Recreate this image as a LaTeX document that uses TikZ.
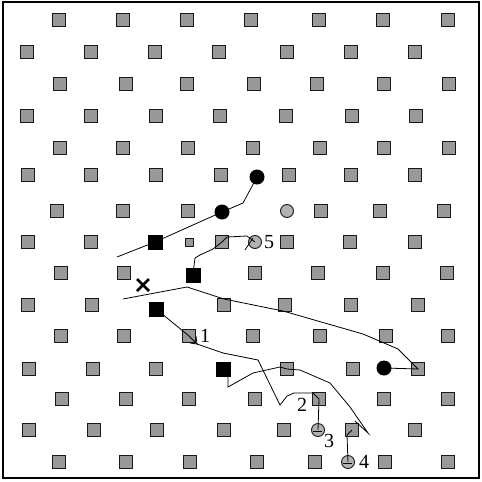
\documentclass[tikz,border=0pt]{standalone}
\usepackage{fontspec}
\setmainfont{Liberation Serif}
\tikzset{
  site/.style={draw=black!90,fill=black!40,line width=0.9pt,minimum size=13pt,inner sep=0pt},
  bigsq/.style={fill=black,minimum size=15pt,inner sep=0pt},
  smallsq/.style={draw=black!90,fill=black!40,line width=0.9pt,minimum size=8pt,inner sep=0pt},
  dot/.style={circle,fill=black,minimum size=15pt,inner sep=0pt},
  ring/.style={circle,draw=black!90,fill=black!30,line width=0.9pt,minimum size=13pt,inner sep=0pt},
  lab/.style={font=\fontsize{20}{20}\selectfont,inner sep=0pt},
  walk/.style={line width=0.8pt}
}
\begin{document}
\begin{tikzpicture}[x=1pt,y=-1pt]
\useasboundingbox (0,0) rectangle (482,482);
\draw[line width=1.2pt] (3,2) rectangle (479,478);
% lattice
\foreach \y/\xs in {20/{59,123,187,251,319,383,448},52/{27,91,155,219,287,351,415},
  84/{60,126,187,254,317,384,449},116/{27,91,156,220,286,352,416},
  148/{60,123,188,253,320,384,449},175/{28,91,156,221,289,351,415},
  211/{57,123,188,321,380,444},242/{28,91,222,287,350,415},
  273/{61,124,255,318,383,447},305/{28,92,224,285,351,418},
  336/{61,124,189,253,320,386,448},369/{29,93,156,287,353,418},
  399/{62,126,189,255,319,384,448},430/{29,94,157,224,284,352,415},
  462/{59,126,190,257,315,385,448}}{
  \foreach \x in \xs {\node[site] (s\x-\y) at (\x,\y) {};}
}
% defects
\node[bigsq] (b1) at (155,242) {};
\node[bigsq] (b2) at (193,275) {};
\node[bigsq] (b3) at (156,309) {};
\node[bigsq] (b4) at (223,369) {};
\node[smallsq] (q1) at (189,242) {};
\node[dot] (d1) at (257,177) {};
\node[dot] (d2) at (222,212) {};
\node[dot] (d3) at (384,368) {};
\node[ring] (r0) at (287,211) {};
\node[ring] (r5) at (255,242) {};
\node[ring] (r3) at (318,430) {};
\node[ring] (r4) at (348,462) {};
\node (cross) at (143,285) {};
\draw[line width=2.6pt] (137,279)--(149,291) (137,291)--(149,279);
% labels
\node[lab] (l1) at (205,336) {1};
\node[lab] (l2) at (302,405) {2};
\node[lab] (l3) at (329,441) {3};
\node[lab] (l4) at (364,462) {4};
\node[lab] (l5) at (269,242) {5};
% walks
\coordinate (w1) at (117,257);
\draw[walk] (w1) -- (b1.center) -- (d2.center) -- (243,203) -- (250,190) -- (d1.center);
\draw[walk] (b2.center) -- (194,266) -- (195,258) -- (200,255) -- (213,249) -- (s222-242.center) -- (227,237) -- (247,236) -- (r5.center);
\draw[walk] (245,250) -- (253,238);
\coordinate (w2) at (123,299);
\draw[walk] (w2) -- (187,287) -- (224,299) -- (283,311) -- (363,334) -- (398,349) -- (412,363) -- (s418-369.center) -- (d3.center);
\draw[walk] (b3.center) -- (s189-336.center) -- (197,344);
\draw[walk] (190,343) -- (197,344) -- (196,336);
\draw[walk] (197,344) -- (223,353) -- (258,360) -- (280,405) -- (287,396) -- (294,393) -- (313,393) -- (s319-399.center) -- (r3.center);
\draw[walk] (313,431) -- (322,431);
\draw[walk] (b4.center) -- (228,376) -- (228,387) -- (253,373) -- (280,367) -- (s287-369.center) -- (300,370) -- (330,383) -- (350,407) -- (368,433) -- (355,421);
\draw[walk] (s352-430.center) -- (347,435) -- (r4.center);
\draw[walk] (343,463) -- (352,463);
\end{tikzpicture}
\end{document}
